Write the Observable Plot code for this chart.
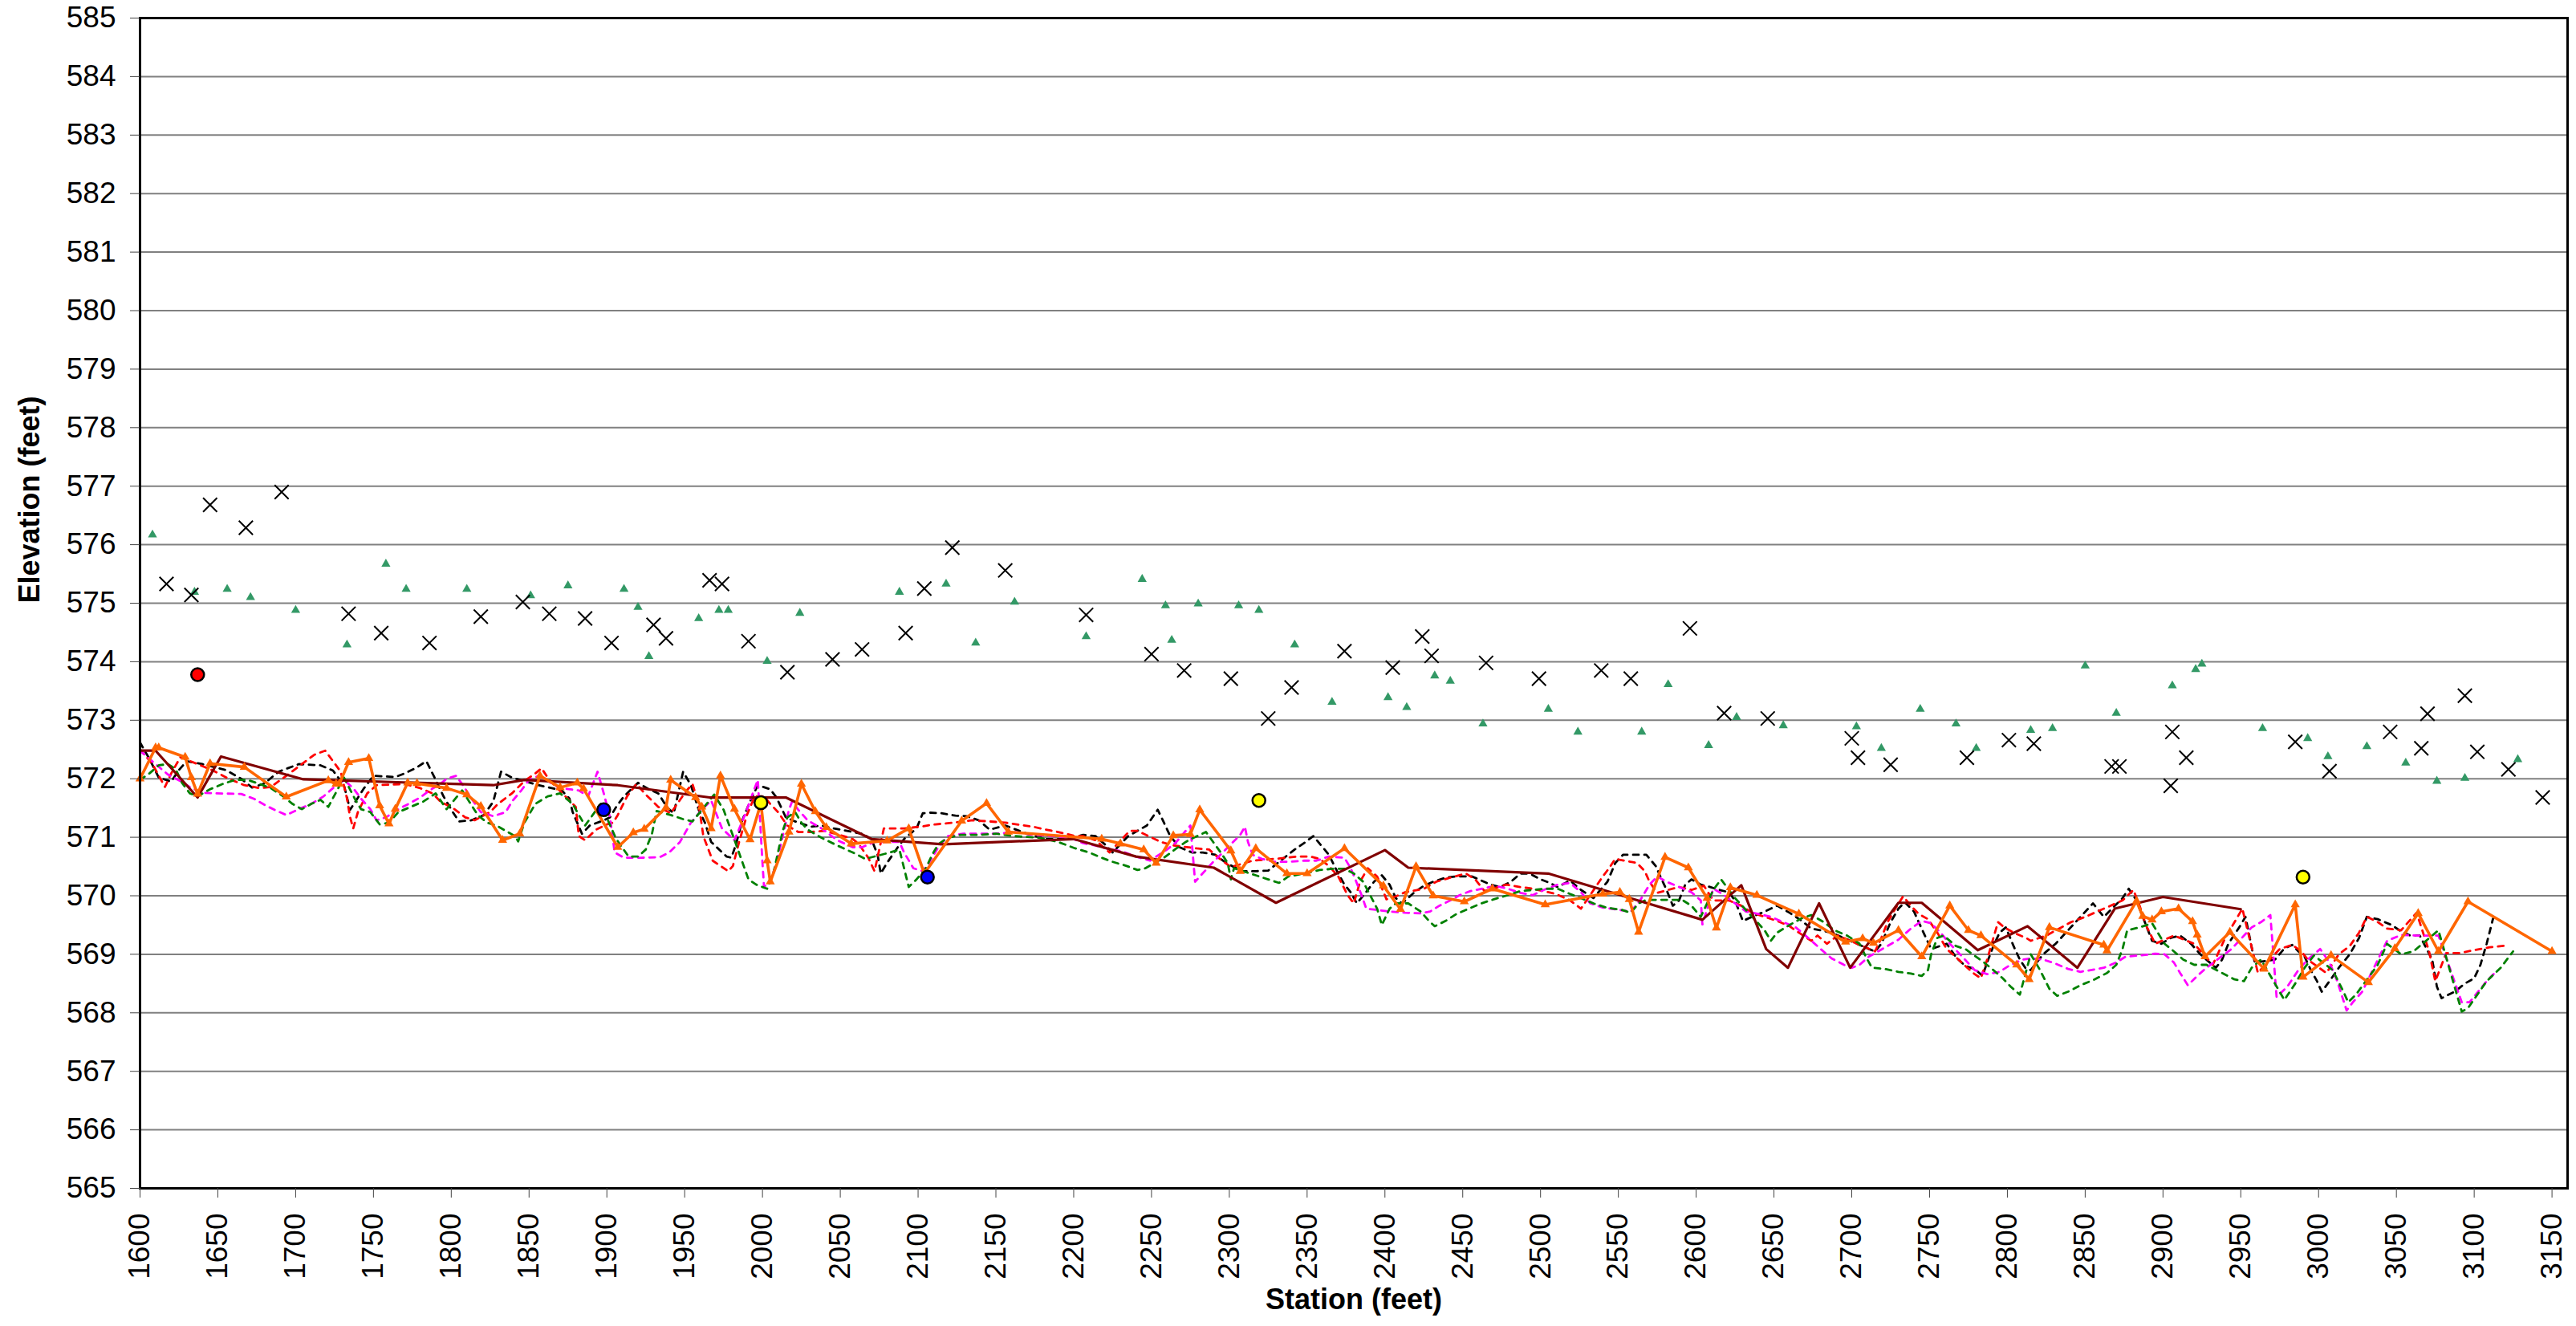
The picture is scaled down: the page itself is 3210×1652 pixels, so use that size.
<!DOCTYPE html>
<html>
<head>
<meta charset="utf-8">
<script src="https://cdn.jsdelivr.net/npm/d3@7"></script>
<script src="https://cdn.jsdelivr.net/npm/@observablehq/plot@0.6"></script>
<style>
  html, body { margin: 0; padding: 0; background: #ffffff; }
  #chart { width: 3210px; height: 1652px; overflow: hidden; }
</style>
</head>
<body>
<div id="chart"></div>
<script>
// ---- axis ticks ----
const xTicks = d3.range(1600, 3151, 50);
const yTicks = d3.range(565, 586, 1);

// ---- scatter series (upper points) ----
const greenTriangles = [[1608,576.17],[1635,575.19],[1656,575.24],[1671,575.1],[1700,574.88],[1733,574.29],[1758,575.67],[1771,575.24],[1810,575.24],[1851,575.13],[1875,575.3],[1911,575.24],[1920,574.93],[1927,574.09],[1959,574.74],[1972,574.88],[1978,574.88],[2003,574.01],[2024,574.83],[2088,575.19],[2118,575.33],[2137,574.32],[2162,575.02],[2208,574.43],[2244,575.41],[2259,574.96],[2263,574.37],[2280,574.99],[2306,574.96],[2319,574.88],[2342,574.29],[2366,573.31],[2402,573.39],[2414,573.22],[2432,573.76],[2442,573.67],[2463,572.94],[2505,573.19],[2524,572.8],[2565,572.8],[2582,573.61],[2608,572.57],[2626,573.05],[2656,572.91],[2703,572.89],[2719,572.52],[2744,573.19],[2767,572.94],[2780,572.52],[2815,572.83],[2829,572.86],[2850,573.93],[2870,573.12],[2906,573.59],[2921,573.87],[2925,573.96],[2964,572.86],[2993,572.69],[3006,572.38],[3031,572.55],[3056,572.27],[3076,571.96],[3094,572.01],[3128,572.33]];

const blackCrosses = [[1617,575.33],[1633,575.14],[1645,576.68],[1668,576.29],[1691,576.9],[1734,574.82],[1755,574.49],[1786,574.32],[1819,574.77],[1846,575.02],[1863,574.82],[1886,574.74],[1903,574.32],[1930,574.63],[1938,574.4],[1966,575.39],[1974,575.33],[1991,574.35],[2016,573.82],[2045,574.04],[2064,574.21],[2092,574.49],[2104,575.25],[2122,575.95],[2156,575.56],[2208,574.8],[2250,574.13],[2271,573.85],[2301,573.71],[2325,573.03],[2340,573.56],[2374,574.18],[2405,573.9],[2424,574.43],[2430,574.1],[2465,573.98],[2499,573.71],[2539,573.85],[2558,573.71],[2596,574.57],[2618,573.12],[2646,573.03],[2700,572.69],[2704,572.36],[2725,572.24],[2774,572.36],[2801,572.66],[2817,572.6],[2867,572.21],[2872,572.21],[2905,571.88],[2906,572.8],[2915,572.36],[2985,572.63],[3007,572.13],[3046,572.8],[3066,572.52],[3070,573.11],[3094,573.42],[3102,572.46],[3122,572.16],[3144,571.68]];

// ---- single marked points ----
const redPoints = [[1637,573.78]];
const bluePoints = [[1898,571.47],[2106,570.32]];
const yellowPoints = [[1999,571.59],[2319,571.63],[2990,570.32]];

// ---- dashed profile lines ----
const blackDashed = [[1600,572.62],[1606,572.34],[1612,572.02],[1620,571.95],[1625,572.15],[1630,572.3],[1640,572.25],[1655,572.15],[1665,572.0],[1672,571.85],[1680,571.92],[1689,572.12],[1698,572.21],[1702,572.25],[1716,572.23],[1724,572.14],[1731,571.89],[1735,571.47],[1744,571.84],[1750,572.05],[1764,572.03],[1770,572.09],[1777,572.18],[1784,572.3],[1790,571.98],[1795,571.7],[1801,571.43],[1805,571.27],[1813,571.29],[1821,571.38],[1827,571.61],[1832,572.12],[1839,572.02],[1847,571.96],[1856,571.89],[1871,571.8],[1876,571.66],[1878,571.43],[1884,571.06],[1889,571.2],[1898,571.29],[1902,571.34],[1906,571.52],[1911,571.7],[1920,571.93],[1927,571.82],[1933,571.75],[1939,571.5],[1943,571.41],[1949,572.12],[1954,571.89],[1959,571.47],[1963,571.25],[1967,570.92],[1977,570.67],[1980,570.65],[1983,570.88],[1987,571.29],[1992,571.61],[1997,571.89],[2005,571.82],[2009,571.68],[2015,571.34],[2021,571.27],[2031,571.18],[2038,571.2],[2046,571.15],[2064,571.06],[2070,570.97],[2074,570.7],[2076,570.38],[2080,570.56],[2087,570.83],[2091,570.97],[2099,571.15],[2103,571.41],[2108,571.42],[2115,571.41],[2124,571.37],[2131,571.36],[2139,571.29],[2146,571.13],[2156,571.2],[2170,571.06],[2182,570.97],[2192,570.97],[2203,571.02],[2206,571.04],[2214,571.02],[2220,570.88],[2225,570.74],[2235,571.02],[2247,571.2],[2254,571.47],[2258,571.25],[2262,571.02],[2268,570.83],[2276,570.74],[2283,570.74],[2291,570.7],[2297,570.58],[2303,570.49],[2309,570.42],[2317,570.42],[2325,570.43],[2332,570.58],[2342,570.79],[2348,570.9],[2354,571.02],[2360,570.83],[2364,570.7],[2370,570.38],[2374,570.19],[2378,570.06],[2382,569.87],[2389,570.1],[2393,570.24],[2398,570.35],[2403,570.19],[2407,569.96],[2411,569.87],[2419,570.06],[2425,570.17],[2431,570.24],[2439,570.31],[2446,570.33],[2456,570.33],[2462,570.26],[2468,570.19],[2474,570.15],[2481,570.24],[2487,570.38],[2493,570.38],[2500,570.28],[2506,570.22],[2511,570.15],[2519,570.26],[2526,570.1],[2534,569.96],[2543,570.24],[2548,570.56],[2553,570.7],[2560,570.7],[2568,570.7],[2574,570.51],[2577,570.33],[2581,570.1],[2585,569.83],[2589,569.92],[2593,570.19],[2597,570.28],[2603,570.19],[2609,570.15],[2615,570.1],[2621,570.06],[2625,569.92],[2630,569.57],[2636,569.64],[2644,569.73],[2652,569.83],[2660,569.71],[2668,569.57],[2674,569.44],[2680,569.41],[2687,569.37],[2693,569.3],[2699,569.23],[2705,569.16],[2711,569.09],[2715,569.05],[2719,569.18],[2725,569.55],[2730,569.78],[2734,569.89],[2740,569.73],[2743,569.55],[2747,569.32],[2751,569.09],[2761,569.18],[2767,568.95],[2773,568.8],[2779,568.75],[2784,568.63],[2787,568.86],[2791,569.14],[2795,569.37],[2799,569.46],[2804,569.14],[2808,568.91],[2812,568.75],[2815,568.73],[2823,569.0],[2831,569.18],[2839,569.41],[2847,569.64],[2855,569.87],[2862,569.64],[2874,569.96],[2878,570.12],[2883,569.92],[2887,569.64],[2893,569.23],[2899,569.18],[2905,569.28],[2911,569.32],[2918,569.18],[2924,569.0],[2930,568.86],[2934,568.77],[2938,568.91],[2942,569.18],[2949,569.46],[2953,569.64],[2959,568.86],[2972,568.91],[2978,569.1],[2983,569.16],[2987,569.05],[2991,568.96],[2995,568.73],[2999,568.54],[3002,568.36],[3007,568.54],[3013,568.77],[3020,569.0],[3026,569.28],[3031,569.64],[3038,569.6],[3047,569.5],[3053,569.39],[3059,569.32],[3065,569.32],[3073,568.91],[3076,568.45],[3079,568.25],[3088,568.37],[3094,568.5],[3100,568.59],[3104,568.82],[3108,569.18],[3112,569.6],[3114,569.71]];

const redDashed = [[1600,572.5],[1608,572.25],[1616,571.86],[1620,572.09],[1626,572.37],[1637,572.25],[1647,572.14],[1657,572.0],[1667,571.89],[1677,571.84],[1684,571.86],[1694,572.05],[1704,572.25],[1712,572.41],[1719,572.48],[1724,572.3],[1729,572.12],[1733,571.66],[1735,571.34],[1737,571.15],[1740,571.43],[1746,571.75],[1752,571.89],[1770,571.91],[1780,571.84],[1788,571.75],[1793,571.61],[1801,571.5],[1809,571.34],[1815,571.29],[1825,571.43],[1830,571.57],[1839,571.75],[1847,571.96],[1854,572.09],[1858,572.18],[1863,571.98],[1880,571.52],[1882,571.02],[1886,570.95],[1893,571.13],[1900,571.22],[1904,571.25],[1907,571.38],[1913,571.7],[1919,571.91],[1925,571.73],[1933,571.52],[1941,571.41],[1951,571.79],[1955,571.91],[1959,571.57],[1962,571.02],[1968,570.6],[1978,570.42],[1981,570.51],[1985,570.92],[1990,571.38],[1995,571.7],[2001,571.7],[2005,571.57],[2010,571.43],[2016,571.2],[2023,571.09],[2031,571.09],[2040,571.11],[2052,571.02],[2058,570.97],[2062,570.88],[2068,570.65],[2072,570.42],[2078,571.15],[2084,571.15],[2091,571.15],[2101,571.18],[2111,571.22],[2123,571.25],[2135,571.29],[2146,571.27],[2156,571.25],[2166,571.21],[2174,571.18],[2182,571.13],[2190,571.09],[2201,571.02],[2206,571.02],[2214,570.95],[2223,570.74],[2236,571.11],[2241,571.11],[2248,571.02],[2256,570.92],[2264,570.86],[2279,570.81],[2287,570.79],[2293,570.65],[2301,570.49],[2315,570.6],[2329,570.63],[2336,570.65],[2344,570.67],[2352,570.67],[2358,570.63],[2364,570.51],[2370,570.33],[2376,570.01],[2380,569.87],[2384,570.24],[2389,570.47],[2395,570.33],[2401,569.94],[2407,569.99],[2413,570.06],[2425,570.12],[2433,570.24],[2442,570.31],[2452,570.38],[2458,570.28],[2464,570.08],[2478,570.19],[2487,570.15],[2495,570.12],[2502,570.08],[2510,570.03],[2519,569.92],[2526,569.78],[2540,570.33],[2544,570.47],[2548,570.63],[2556,570.59],[2562,570.56],[2567,570.42],[2570,570.24],[2575,570.05],[2589,570.15],[2597,570.1],[2605,570.17],[2611,569.92],[2621,569.92],[2629,569.83],[2636,569.71],[2644,569.64],[2652,569.57],[2660,569.48],[2666,569.37],[2674,569.23],[2678,569.32],[2684,569.18],[2691,569.32],[2699,569.23],[2707,569.14],[2715,569.05],[2719,569.28],[2723,569.55],[2728,569.78],[2733,569.99],[2738,569.83],[2743,569.69],[2749,569.6],[2755,569.37],[2761,569.09],[2767,568.95],[2773,568.8],[2779,568.66],[2783,568.59],[2787,568.91],[2791,569.28],[2794,569.55],[2798,569.46],[2804,569.37],[2812,569.28],[2815,569.23],[2825,569.32],[2841,569.55],[2850,569.64],[2874,569.92],[2881,570.1],[2885,569.83],[2889,569.5],[2895,569.18],[2907,569.32],[2920,569.18],[2926,569.0],[2932,568.82],[2940,569.28],[2946,569.55],[2951,569.78],[2961,568.68],[2967,568.86],[2975,569.09],[2983,569.16],[2989,569.05],[2993,568.91],[3005,568.68],[3013,569.0],[3020,569.14],[3026,569.37],[3031,569.64],[3038,569.55],[3044,569.44],[3053,569.41],[3063,569.71],[3071,569.05],[3075,568.54],[3082,569.02],[3090,569.02],[3100,569.07],[3110,569.12],[3121,569.15]];

const magentaDashed = [[1600,572.48],[1610,572.25],[1618,572.07],[1626,571.96],[1633,571.84],[1641,571.76],[1649,571.75],[1665,571.74],[1673,571.66],[1681,571.54],[1688,571.45],[1694,571.38],[1702,571.48],[1710,571.57],[1718,571.7],[1724,571.84],[1731,571.98],[1737,571.84],[1742,571.66],[1748,571.48],[1752,571.29],[1758,571.34],[1766,571.48],[1774,571.59],[1780,571.68],[1786,571.8],[1793,571.91],[1797,572.0],[1803,572.05],[1807,571.91],[1813,571.66],[1819,571.43],[1827,571.36],[1835,571.43],[1839,571.61],[1845,571.8],[1850,571.98],[1856,572.05],[1862,571.96],[1870,571.84],[1882,571.8],[1888,571.7],[1894,572.12],[1898,571.75],[1902,571.34],[1905,570.74],[1911,570.65],[1922,570.65],[1934,570.66],[1940,570.74],[1947,570.92],[1954,571.25],[1961,571.47],[1967,571.63],[1974,571.15],[1982,570.95],[1989,571.4],[1995,571.84],[1997,571.98],[2000,570.56],[2001,570.15],[2005,570.24],[2009,570.56],[2013,571.02],[2017,571.47],[2019,571.61],[2023,571.47],[2029,571.29],[2038,571.15],[2048,570.95],[2058,570.83],[2064,570.83],[2072,570.92],[2088,570.92],[2091,570.74],[2097,570.47],[2103,570.42],[2107,570.56],[2113,570.83],[2119,571.02],[2129,571.06],[2139,571.06],[2150,571.06],[2162,571.09],[2174,571.04],[2186,571.02],[2198,570.99],[2206,570.9],[2214,570.86],[2221,570.81],[2231,570.76],[2240,570.67],[2249,570.6],[2260,570.79],[2266,570.92],[2272,571.11],[2275,571.2],[2278,570.24],[2289,570.56],[2295,570.72],[2301,570.88],[2307,571.04],[2310,571.18],[2312,570.92],[2315,570.7],[2321,570.63],[2329,570.58],[2338,570.58],[2348,570.6],[2356,570.6],[2364,570.67],[2374,570.65],[2378,570.47],[2381,570.28],[2385,570.01],[2388,569.78],[2403,569.73],[2413,569.71],[2423,569.7],[2429,569.73],[2435,569.83],[2442,569.92],[2448,570.01],[2455,570.08],[2471,570.17],[2479,570.12],[2487,570.05],[2495,570.01],[2502,570.1],[2511,570.19],[2519,570.22],[2526,570.06],[2532,569.87],[2540,569.8],[2550,569.76],[2558,569.73],[2564,569.92],[2570,570.19],[2575,570.33],[2581,570.24],[2589,570.15],[2597,570.06],[2603,569.92],[2604,569.51],[2611,570.12],[2617,570.03],[2625,569.87],[2632,569.73],[2640,569.69],[2648,569.64],[2656,569.55],[2664,569.46],[2672,569.28],[2680,569.09],[2687,568.93],[2695,568.82],[2700,568.77],[2705,568.82],[2711,568.96],[2717,569.05],[2730,569.25],[2738,569.44],[2745,569.57],[2751,569.53],[2757,569.37],[2763,569.18],[2771,568.96],[2779,568.73],[2787,568.66],[2795,568.7],[2802,568.82],[2810,568.91],[2815,568.93],[2823,568.91],[2831,568.84],[2839,568.75],[2847,568.7],[2862,568.77],[2870,568.86],[2876,568.96],[2885,568.98],[2895,569.01],[2901,569.0],[2907,568.86],[2911,568.68],[2916,568.47],[2922,568.63],[2928,568.77],[2944,569.09],[2957,569.46],[2963,569.55],[2969,569.67],[2973,568.27],[2980,568.45],[2987,568.73],[2993,568.91],[3001,569.09],[3007,568.86],[3012,568.54],[3018,568.04],[3022,568.18],[3028,568.36],[3044,569.23],[3053,569.33],[3063,569.32],[3071,569.32],[3077,569.32],[3092,568.18],[3097,568.18],[3108,568.54],[3115,568.73]];

const greenDashed = [[1600,571.98],[1606,572.09],[1612,572.23],[1618,572.25],[1623,572.16],[1627,571.93],[1632,571.75],[1637,571.7],[1645,571.82],[1653,571.91],[1661,571.98],[1669,571.98],[1677,571.91],[1684,571.84],[1692,571.7],[1698,571.57],[1704,571.48],[1710,571.57],[1716,571.64],[1721,571.52],[1731,572.02],[1738,571.66],[1742,571.48],[1748,571.43],[1754,571.22],[1760,571.25],[1766,571.43],[1774,571.52],[1782,571.61],[1790,571.75],[1797,571.48],[1807,571.8],[1817,571.38],[1823,571.25],[1829,571.2],[1841,571.02],[1843,570.93],[1847,571.25],[1854,571.57],[1862,571.7],[1870,571.75],[1878,571.57],[1882,571.38],[1886,571.2],[1896,571.57],[1906,570.97],[1914,570.67],[1920,570.67],[1925,570.79],[1929,571.06],[1932,571.45],[1941,571.38],[1949,571.31],[1955,571.27],[1969,571.73],[1975,571.47],[1983,570.88],[1991,570.28],[1996,570.19],[2003,570.12],[2007,570.38],[2013,571.11],[2016,571.34],[2021,571.43],[2025,571.25],[2029,571.13],[2038,570.99],[2048,570.86],[2058,570.74],[2066,570.63],[2082,570.74],[2088,570.79],[2094,570.15],[2099,570.28],[2105,570.47],[2109,570.7],[2113,570.88],[2119,570.99],[2127,571.04],[2139,571.04],[2150,571.06],[2162,571.02],[2178,570.99],[2190,570.92],[2201,570.81],[2210,570.74],[2218,570.65],[2225,570.58],[2234,570.51],[2241,570.44],[2246,570.47],[2252,570.56],[2259,570.67],[2266,570.81],[2272,570.92],[2277,570.99],[2285,571.09],[2295,570.72],[2299,570.56],[2301,570.28],[2303,570.47],[2317,570.35],[2325,570.28],[2332,570.22],[2338,570.33],[2348,570.38],[2358,570.44],[2366,570.46],[2374,570.46],[2380,570.38],[2386,570.24],[2395,569.78],[2398,569.5],[2403,569.78],[2407,569.87],[2415,569.87],[2423,569.73],[2429,569.55],[2432,569.48],[2439,569.57],[2446,569.69],[2454,569.78],[2462,569.87],[2470,569.94],[2479,570.01],[2487,570.08],[2495,570.1],[2502,570.12],[2511,570.12],[2519,570.03],[2526,569.96],[2534,569.87],[2542,569.8],[2552,569.76],[2558,569.71],[2563,569.87],[2568,569.93],[2591,569.93],[2597,569.83],[2603,569.64],[2611,570.1],[2616,570.28],[2625,569.96],[2644,569.41],[2648,569.23],[2652,569.37],[2660,569.5],[2668,569.62],[2674,569.67],[2682,569.55],[2689,569.41],[2697,569.32],[2705,569.18],[2709,568.96],[2713,568.77],[2721,568.75],[2730,568.7],[2738,568.67],[2745,568.63],[2749,568.73],[2751,569.0],[2755,569.28],[2759,569.32],[2767,569.14],[2773,569.09],[2785,568.86],[2791,568.73],[2797,568.59],[2802,568.45],[2808,568.31],[2815,569.0],[2821,568.73],[2827,568.41],[2832,568.29],[2839,568.36],[2847,568.47],[2856,568.57],[2864,568.68],[2870,568.82],[2874,569.09],[2877,569.41],[2885,569.46],[2893,569.53],[2901,569.18],[2907,569.05],[2913,568.91],[2920,568.82],[2928,568.82],[2938,568.68],[2946,568.57],[2952,568.54],[2957,568.77],[2963,568.91],[2973,568.45],[2978,568.22],[2985,568.5],[2991,568.77],[2997,568.98],[3009,568.73],[3016,568.36],[3019,568.18],[3024,568.31],[3038,568.82],[3044,569.18],[3053,569.0],[3061,569.05],[3077,569.41],[3092,568.02],[3096,568.08],[3102,568.31],[3108,568.54],[3117,568.77],[3125,569.05]];

// ---- solid profile lines ----
const maroonLine = [[1600,572.48],[1610,572.48],[1637,571.68],[1652,572.38],[1705,571.99],[1827,571.89],[1847,571.98],[1907,571.89],[1966,571.68],[2015,571.68],[2070,570.97],[2116,570.88],[2200,570.97],[2240,570.67],[2290,570.48],[2330,569.88],[2400,570.78],[2415,570.48],[2505,570.38],[2604,569.59],[2629,570.18],[2645,569.09],[2659,568.77],[2679,569.87],[2699,568.77],[2730,569.88],[2745,569.88],[2781,569.07],[2813,569.48],[2845,568.77],[2869,569.78],[2900,569.98],[2950,569.77]];

const orangeLine = [[1600,572.0],[1610,572.53],[1612,572.53],[1629,572.37],[1633,572.02],[1637,571.74],[1645,572.26],[1667,572.2],[1694,571.69],[1721,571.97],[1726,571.91],[1728,571.91],[1734,572.28],[1747,572.35],[1754,571.54],[1760,571.23],[1764,571.48],[1772,571.93],[1778,571.92],[1797,571.84],[1810,571.73],[1819,571.53],[1833,570.95],[1844,571.06],[1857,572.05],[1870,571.85],[1881,571.93],[1885,571.83],[1907,570.83],[1917,571.08],[1924,571.14],[1938,571.51],[1941,571.98],[1957,571.68],[1961,571.52],[1967,571.15],[1973,572.05],[1982,571.48],[1992,570.96],[1999,571.58],[2003,570.6],[2005,570.24],[2017,571.09],[2025,571.91],[2034,571.44],[2041,571.17],[2057,570.89],[2080,570.94],[2094,571.15],[2104,570.38],[2128,571.28],[2144,571.58],[2158,571.09],[2218,570.97],[2230,570.89],[2245,570.79],[2253,570.56],[2264,571.03],[2275,571.05],[2281,571.47],[2301,570.77],[2307,570.42],[2317,570.81],[2337,570.38],[2350,570.38],[2374,570.81],[2399,570.17],[2410,569.77],[2420,570.5],[2431,570.0],[2451,569.9],[2469,570.12],[2503,569.85],[2540,570.03],[2551,570.06],[2557,569.94],[2563,569.38],[2580,570.66],[2595,570.48],[2607,569.96],[2613,569.45],[2622,570.14],[2639,570.01],[2666,569.69],[2696,569.21],[2707,569.27],[2714,569.19],[2730,569.41],[2745,568.96],[2763,569.83],[2775,569.41],[2783,569.32],[2806,568.82],[2814,568.57],[2827,569.46],[2862,569.16],[2864,569.06],[2883,569.91],[2887,569.65],[2893,569.59],[2899,569.73],[2910,569.78],[2919,569.56],[2922,569.33],[2927,568.96],[2943,569.38],[2965,568.75],[2985,569.85],[2990,568.61],[3008,568.98],[3032,568.52],[3049,569.1],[3064,569.7],[3077,569.05],[3096,569.9],[3150,569.05]];

const X = d => d[0], Y = d => d[1];
const dash = "7,7";
const fmt = d3.format("d");

const chart = Plot.plot({
  width: 3210,
  height: 1652,
  marginLeft: 174,
  marginRight: 11,
  marginTop: 22,
  marginBottom: 172,
  x: { domain: [1600, 3160] },
  y: { domain: [565, 585] },
  style: { fontFamily: "'Liberation Sans', Arial, sans-serif", color: "black", background: "white", overflow: "visible" },
  marks: [
    Plot.gridY(yTicks, { stroke: "#808080", strokeOpacity: 1, strokeWidth: 2 }),
    Plot.line(blackDashed, { x: X, y: Y, stroke: "black", strokeWidth: 2.8, strokeDasharray: dash }),
    Plot.line(redDashed, { x: X, y: Y, stroke: "#FF0000", strokeWidth: 2.8, strokeDasharray: dash }),
    Plot.line(magentaDashed, { x: X, y: Y, stroke: "#FF00FF", strokeWidth: 2.8, strokeDasharray: dash }),
    Plot.line(greenDashed, { x: X, y: Y, stroke: "#008000", strokeWidth: 2.8, strokeDasharray: dash }),
    Plot.line(maroonLine, { x: X, y: Y, stroke: "#800000", strokeWidth: 3.2 }),
    Plot.line(orangeLine, { x: X, y: Y, stroke: "#FF6600", strokeWidth: 3.6 }),
    Plot.dot(orangeLine, { x: X, y: Y, symbol: "triangle", r: 4.2, fill: "#FF6600", stroke: "none" }),
    Plot.dot(greenTriangles, { x: X, y: Y, symbol: "triangle", r: 4.2, fill: "#339966", stroke: "none" }),
    Plot.dot(blackCrosses, { x: X, y: Y, symbol: "times", r: 8, stroke: "black", strokeWidth: 2 }),
    Plot.dot(redPoints, { x: X, y: Y, r: 8, fill: "#FF0000", stroke: "black", strokeWidth: 2.5 }),
    Plot.dot(bluePoints, { x: X, y: Y, r: 8, fill: "#0000FF", stroke: "black", strokeWidth: 2.5 }),
    Plot.dot(yellowPoints, { x: X, y: Y, r: 8, fill: "#FFFF00", stroke: "black", strokeWidth: 2.5 }),
    Plot.frame({ stroke: "black", strokeWidth: 3 }),
    Plot.axisY(yTicks, { tickSize: 12, tickPadding: 18, fontSize: 37, label: null, stroke: "#444", tickFormat: fmt }),
    Plot.axisX(xTicks, { tickSize: 12, tickPadding: 19, fontSize: 37, tickRotate: -90, label: null, stroke: "#444", tickFormat: fmt }),
    Plot.text(["Elevation (feet)"], { frameAnchor: "left", dx: -137, rotate: -90, fontSize: 36, fontWeight: "bold", fill: "black" }),
    Plot.text(["Station (feet)"], { frameAnchor: "bottom", dy: 150, fontSize: 36, fontWeight: "bold", fill: "black" })
  ]
});

document.getElementById("chart").appendChild(chart);
</script>
</body>
</html>
